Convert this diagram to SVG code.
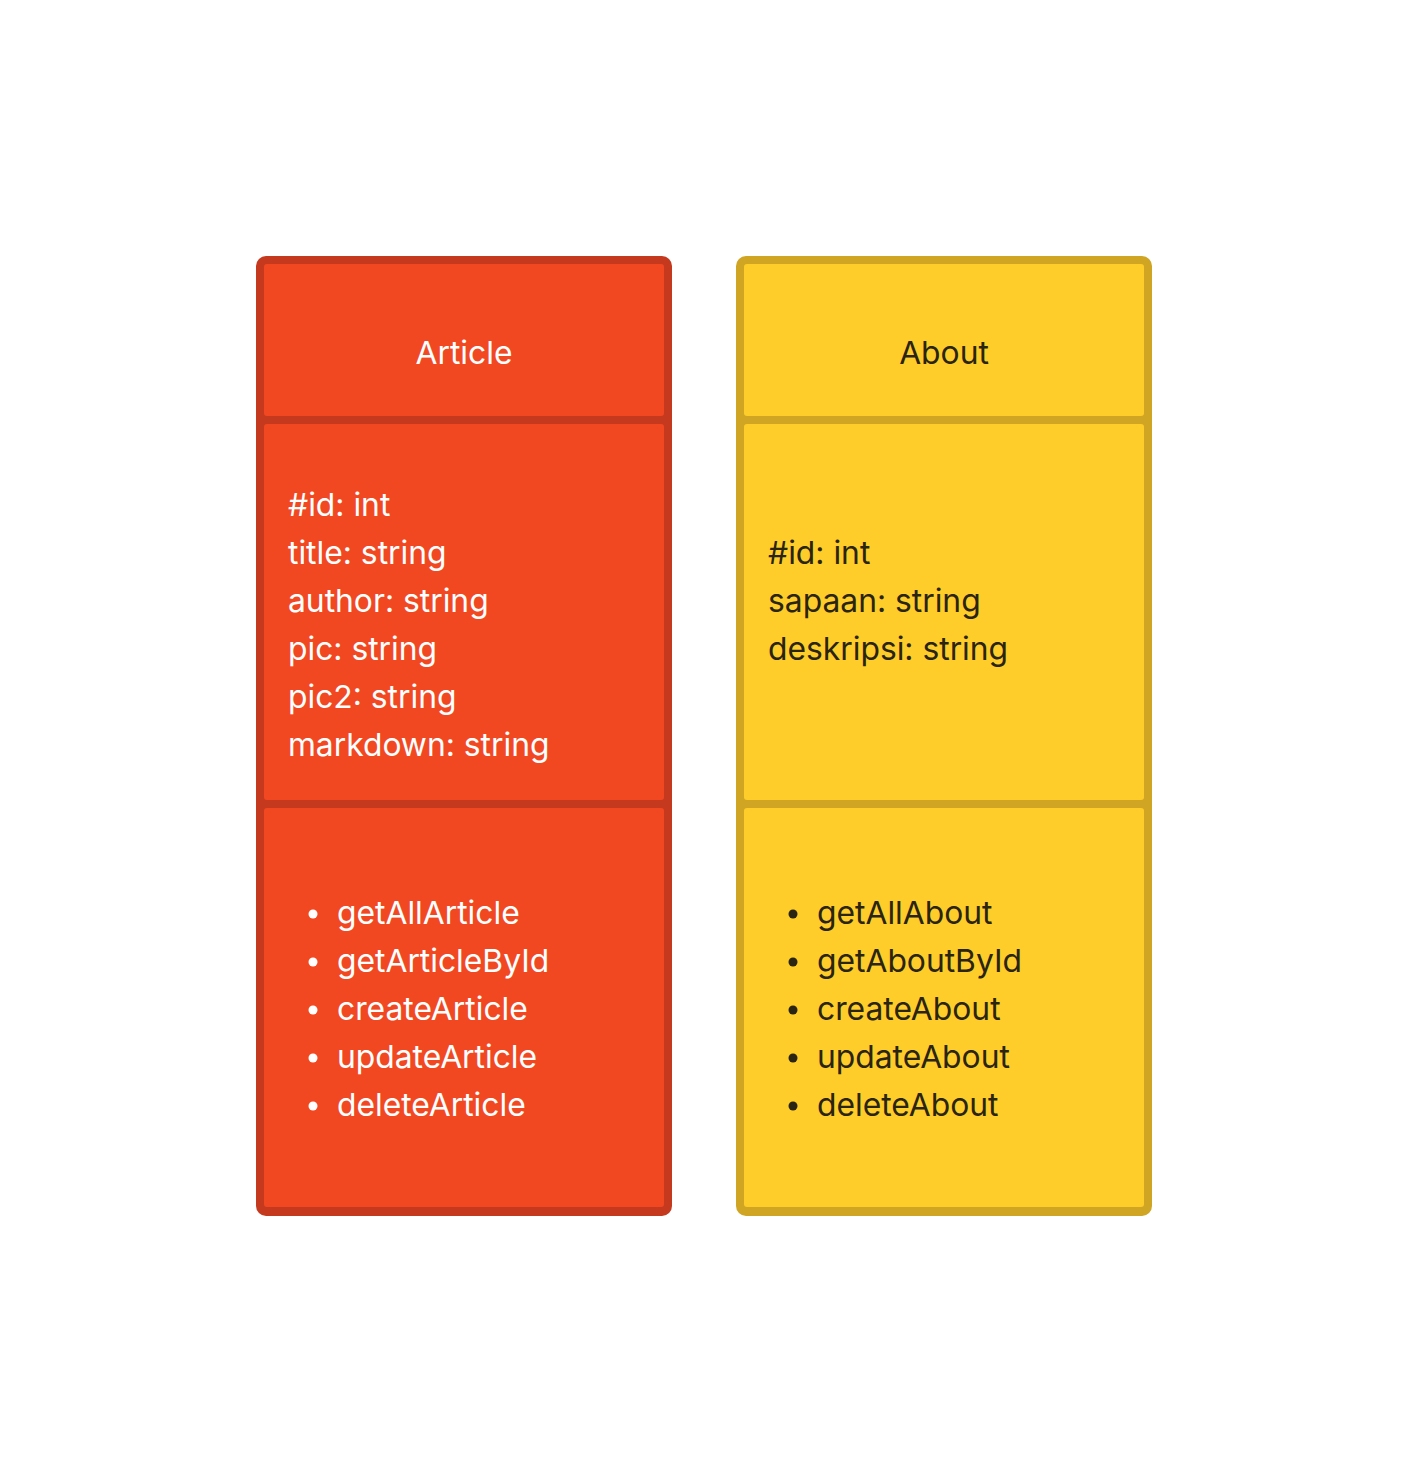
<svg xmlns="http://www.w3.org/2000/svg" width="1408" height="1472" viewBox="0 0 1408 1472">
<style>
.t{font-family:Inter,"Noto Sans",sans-serif;font-size:31.8px}
.w{fill:#ffffff}
.d{fill:#2a2412}
.rb{fill:#c53a1f}
.rf{fill:#f24822}
.yb{fill:#d0a523}
.yf{fill:#ffcd29}
</style>
<rect width="1408" height="1472" fill="#ffffff"/>
<g id="article">
<rect class="rb" x="256" y="256" width="416" height="960" rx="10"/>
<rect class="rf" x="264" y="264" width="400" height="152" rx="3"/>
<rect class="rf" x="264" y="424" width="400" height="376" rx="3"/>
<rect class="rf" x="264" y="808" width="400" height="399" rx="3"/>
<text class="t w" x="464" y="364" text-anchor="middle">Article</text>
<text class="t w" x="288" y="516">#id: int</text>
<text class="t w" x="288" y="564">title: string</text>
<text class="t w" x="288" y="612">author: string</text>
<text class="t w" x="288" y="660">pic: string</text>
<text class="t w" x="288" y="708">pic2: string</text>
<text class="t w" x="288" y="756">markdown: string</text>
<g class="w">
<circle cx="313" cy="914" r="4.5"/><circle cx="313" cy="962" r="4.5"/><circle cx="313" cy="1010" r="4.5"/><circle cx="313" cy="1058" r="4.5"/><circle cx="313" cy="1106" r="4.5"/>
</g>
<text class="t w" x="337" y="924">getAllArticle</text>
<text class="t w" x="337" y="972">getArticleById</text>
<text class="t w" x="337" y="1020">createArticle</text>
<text class="t w" x="337" y="1068">updateArticle</text>
<text class="t w" x="337" y="1116">deleteArticle</text>
</g>
<g id="about">
<rect class="yb" x="736" y="256" width="416" height="960" rx="10"/>
<rect class="yf" x="744" y="264" width="400" height="152" rx="3"/>
<rect class="yf" x="744" y="424" width="400" height="376" rx="3"/>
<rect class="yf" x="744" y="808" width="400" height="399" rx="3"/>
<text class="t d" x="944" y="364" text-anchor="middle">About</text>
<text class="t d" x="768" y="564">#id: int</text>
<text class="t d" x="768" y="612">sapaan: string</text>
<text class="t d" x="768" y="660">deskripsi: string</text>
<g class="d">
<circle cx="793" cy="914" r="4.5"/><circle cx="793" cy="962" r="4.5"/><circle cx="793" cy="1010" r="4.5"/><circle cx="793" cy="1058" r="4.5"/><circle cx="793" cy="1106" r="4.5"/>
</g>
<text class="t d" x="817" y="924">getAllAbout</text>
<text class="t d" x="817" y="972">getAboutById</text>
<text class="t d" x="817" y="1020">createAbout</text>
<text class="t d" x="817" y="1068">updateAbout</text>
<text class="t d" x="817" y="1116">deleteAbout</text>
</g>
<g id="connectors"/>
</svg>
